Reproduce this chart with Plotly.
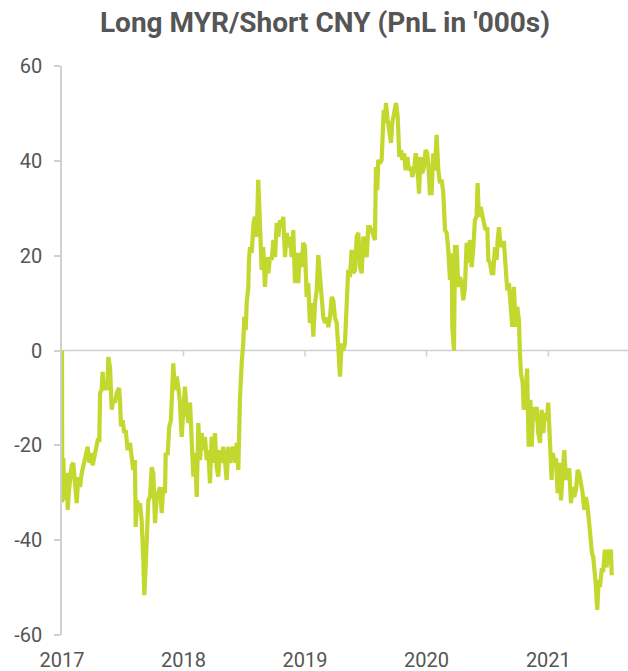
import pandas as pd
import plotly.graph_objects as go

# Time in years since 2017-01-01, PnL in '000s
years_since_2017 = [
    0.000, 0.002, 0.011, 0.019, 0.039, 0.047, 0.058, 0.080, 0.093, 0.107, 0.121, 0.134, 0.148, 0.162,
    0.175, 0.189, 0.203, 0.211, 0.225, 0.238, 0.252, 0.271, 0.280, 0.294, 0.307, 0.313, 0.326, 0.334,
    0.345, 0.359, 0.373, 0.381, 0.395, 0.409, 0.422, 0.436, 0.450, 0.469, 0.477, 0.485, 0.499, 0.512,
    0.524, 0.540, 0.559, 0.573, 0.586, 0.600, 0.606, 0.617, 0.627, 0.641, 0.655, 0.669, 0.677, 0.688,
    0.697, 0.710, 0.724, 0.738, 0.751, 0.765, 0.779, 0.792, 0.806, 0.820, 0.833, 0.847, 0.853, 0.869,
    0.882, 0.896, 0.902, 0.915, 0.929, 0.943, 0.956, 0.970, 0.984,
    1.011, 1.025, 1.039, 1.053, 1.067, 1.080, 1.094, 1.108, 1.121, 1.135, 1.149, 1.162, 1.176, 1.190,
    1.203, 1.217, 1.231, 1.244, 1.258, 1.272, 1.285, 1.299, 1.313, 1.326, 1.340, 1.354, 1.368, 1.382,
    1.396, 1.409, 1.423, 1.437, 1.450, 1.454, 1.464, 1.478, 1.491, 1.499, 1.511, 1.519, 1.532, 1.538,
    1.546, 1.560, 1.565, 1.576, 1.587, 1.601, 1.614, 1.623, 1.634, 1.642, 1.655, 1.669, 1.683, 1.697,
    1.711, 1.725, 1.738, 1.752, 1.766, 1.779, 1.793, 1.807, 1.820, 1.834, 1.848, 1.861, 1.875, 1.889,
    1.902, 1.916, 1.930, 1.943, 1.957, 1.971, 1.984, 1.998,
    2.012, 2.025, 2.039, 2.053, 2.067, 2.081, 2.095, 2.108, 2.122, 2.136, 2.149, 2.163, 2.177, 2.190,
    2.204, 2.218, 2.231, 2.245, 2.259, 2.272, 2.286, 2.300, 2.313, 2.327, 2.341, 2.354, 2.368, 2.382,
    2.396, 2.410, 2.424, 2.437, 2.451, 2.465, 2.478, 2.492, 2.506, 2.519, 2.533, 2.547, 2.560, 2.574,
    2.582, 2.593, 2.601, 2.615, 2.629, 2.637, 2.646, 2.656, 2.664, 2.678, 2.692, 2.706, 2.716, 2.733,
    2.747, 2.761, 2.774, 2.788, 2.799, 2.813, 2.826, 2.840, 2.854, 2.868, 2.881, 2.895, 2.909, 2.922,
    2.936, 2.949, 2.963, 2.977, 2.991,
    3.004, 3.012, 3.026, 3.040, 3.053, 3.067, 3.081, 3.095, 3.109, 3.122, 3.136, 3.150, 3.164, 3.177,
    3.191, 3.205, 3.210, 3.224, 3.232, 3.246, 3.259, 3.273, 3.287, 3.300, 3.314, 3.328, 3.342, 3.355,
    3.369, 3.382, 3.396, 3.410, 3.418, 3.429, 3.443, 3.456, 3.470, 3.484, 3.498, 3.506, 3.520, 3.534,
    3.547, 3.561, 3.575, 3.583, 3.594, 3.608, 3.621, 3.635, 3.649, 3.662, 3.676, 3.690, 3.703, 3.717,
    3.731, 3.744, 3.758, 3.766, 3.775, 3.789, 3.797, 3.811, 3.825, 3.838, 3.852, 3.863, 3.876, 3.890,
    3.904, 3.917, 3.931, 3.945, 3.958, 3.972, 3.986, 3.999,
    4.013, 4.027, 4.035, 4.049, 4.063, 4.076, 4.090, 4.104, 4.118, 4.131, 4.145, 4.159, 4.172, 4.186,
    4.200, 4.213, 4.227, 4.241, 4.254, 4.268, 4.282, 4.295, 4.309, 4.323, 4.336, 4.350, 4.359, 4.369,
    4.378, 4.389, 4.402, 4.414, 4.424, 4.438, 4.452, 4.465, 4.479, 4.493, 4.507, 4.515, 4.521,
]

pnl = [
    0.0, -32.0, -22.7, -31.5, -25.8, -33.6, -29.4, -24.2, -23.7, -28.0, -32.2, -26.7, -28.8, -25.9,
    -24.5, -22.4, -21.0, -20.3, -23.7, -21.6, -24.2, -22.0, -20.3, -18.9, -18.9, -9.0, -8.3, -4.5,
    -8.3, -6.9, -8.3, -1.4, -3.5, -12.5, -10.4, -11.0, -9.0, -7.9, -10.4, -16.0, -14.7, -17.4,
    -16.8, -21.0, -19.5, -22.4, -25.2, -23.1, -37.2, -31.6, -33.0, -32.2, -35.8, -44.2, -51.6, -45.7,
    -40.0, -31.6, -30.9, -24.6, -25.9, -36.4, -30.9, -29.4, -28.8, -34.3, -28.8, -30.1, -21.6, -22.0,
    -16.1, -14.7, -8.3, -2.7, -8.3, -5.5, -7.6, -11.0, -18.2,
    -7.6, -12.5, -15.3, -11.0, -18.2, -26.6, -21.6, -30.9, -15.3, -23.1, -17.4, -21.0, -18.2, -23.1,
    -21.0, -28.0, -18.2, -23.7, -17.4, -24.6, -26.6, -21.0, -23.7, -20.3, -23.1, -27.3, -20.3, -23.7,
    -21.6, -20.3, -23.7, -19.5, -25.2, -14.7, -9.8, -2.6, 1.6, 7.1, 4.3, 10.0, 13.4, 19.1,
    21.8, 20.6, 24.8, 26.9, 28.2, 24.0, 36.0, 26.9, 22.7, 17.0, 21.8, 13.4, 19.7, 16.3,
    19.7, 19.1, 23.3, 19.7, 26.9, 24.0, 27.5, 26.0, 28.2, 19.7, 24.8, 21.8, 24.0, 19.7,
    25.4, 14.2, 20.6, 14.2, 20.6, 17.6, 22.7, 22.0,
    11.3, 14.2, 5.8, 10.0, 2.9, 10.0, 12.7, 20.1, 15.5, 12.7, 7.0, 5.8, 7.0, 4.9,
    7.0, 11.3, 10.6, 7.0, 5.8, 0.8, -5.5, 1.5, 0.0, 1.5, 11.3, 17.0, 15.5, 21.2,
    16.3, 17.0, 24.0, 24.8, 17.6, 16.3, 24.0, 21.2, 19.7, 26.0, 26.0, 25.4, 24.0, 23.3,
    38.7, 33.8, 40.2, 39.5, 40.2, 46.5, 50.7, 48.0, 52.2, 48.6, 45.9, 43.8, 48.0, 50.7,
    52.2, 49.3, 40.8, 42.3, 40.2, 41.6, 38.0, 40.8, 38.0, 38.7, 36.6, 38.0, 41.6, 39.5,
    33.1, 40.8, 37.4, 38.7, 42.3,
    41.6, 39.5, 33.2, 33.2, 41.6, 38.0, 45.5, 38.0, 35.3, 36.0, 33.2, 25.4, 24.8, 21.2,
    14.9, 20.5, 5.0, 0.0, 21.8, 21.8, 13.4, 15.5, 14.2, 10.6, 13.4, 22.7, 18.5, 23.3,
    17.6, 21.2, 27.5, 28.2, 35.3, 28.2, 30.3, 28.2, 26.9, 25.4, 26.0, 19.1, 18.5, 16.3,
    16.3, 21.8, 19.1, 23.3, 26.0, 21.8, 22.7, 22.7, 17.6, 12.7, 14.2, 9.2, 5.0, 13.4,
    5.0, 9.2, 6.4, -0.6, -4.8, -6.9, -12.5, -10.4, -3.8, -20.3, -10.4, -20.3, -11.9, -14.7,
    -11.9, -17.4, -19.5, -12.5, -17.4, -13.2, -14.7, -11.0,
    -21.0, -27.3, -21.6, -23.1, -23.1, -30.1, -23.7, -31.6, -25.9, -21.0, -27.3, -25.2, -25.2, -32.2,
    -28.8, -30.9, -29.4, -25.2, -25.9, -28.0, -30.1, -33.6, -30.9, -33.0, -37.2, -40.0, -42.8, -43.5,
    -45.7, -49.1, -54.7, -48.4, -49.9, -46.3, -46.3, -42.0, -45.7, -42.0, -44.2, -42.0, -47.4,
]

y_ticks = [-60, -40, -20, 0, 20, 40, 60]
y_tick_labels = ["-60", "-40", "-20", "0", "20", "40", "60"]
year_ticks = ["2017", "2018", "2019", "2020", "2021"]
title_text = "Long MYR/Short CNY (PnL in '000s)"

base = pd.Timestamp("2017-01-01")
dates = [base + pd.Timedelta(days=f * 365.25) for f in years_since_2017]

LINE_COLOR = "#c3d82e"
GRID = "#d0d0d0"
TEXT = "#555555"

fig = go.Figure()
fig.add_trace(go.Scatter(
    x=dates, y=pnl, mode="lines",
    line=dict(color=LINE_COLOR, width=4.2),
    hoverinfo="skip", showlegend=False,
))

x_end = base + pd.Timedelta(days=4.655 * 365.25)

# zero line with small ticks pointing down at each year
fig.add_shape(type="line", xref="x", yref="y", x0=base, x1=x_end, y0=0, y1=0,
              line=dict(color=GRID, width=1.5), layer="below")
for yr in year_ticks:
    fig.add_shape(type="line", xref="x", yref="y", ysizemode="pixel", yanchor=0,
                  x0=pd.Timestamp(yr + "-01-01"), x1=pd.Timestamp(yr + "-01-01"),
                  y0=0, y1=-6, line=dict(color=GRID, width=1.5), layer="below")

fig.update_layout(
    width=628, height=671,
    margin=dict(l=62, r=0, t=66, b=36),
    paper_bgcolor="white", plot_bgcolor="white",
    font=dict(family="Roboto", color=TEXT, size=20),
    title=dict(text="<b>" + title_text + "</b>", x=325 / 628, xref="container", xanchor="center",
               y=1 - 22 / 671, yref="container", yanchor="middle",
               font=dict(family="Roboto", size=28, color=TEXT)),
    xaxis=dict(
        type="date", range=[base, x_end], automargin=False,
        tickvals=[pd.Timestamp(y + "-01-01") for y in year_ticks], ticktext=year_ticks,
        showgrid=False, zeroline=False, showline=False,
        ticks="outside", ticklen=7, tickcolor="rgba(0,0,0,0)",
        tickfont=dict(size=20, color=TEXT),
    ),
    yaxis=dict(
        range=[-60, 60], tickvals=y_ticks, ticktext=y_tick_labels, automargin=False,
        showgrid=False, zeroline=False,
        showline=True, linecolor=GRID, linewidth=1.5,
        ticks="outside", ticklen=6, tickcolor=GRID, tickwidth=1.5,
        ticklabelstandoff=8,
        tickfont=dict(size=20, color=TEXT),
    ),
)

fig.write_html("out.html")
